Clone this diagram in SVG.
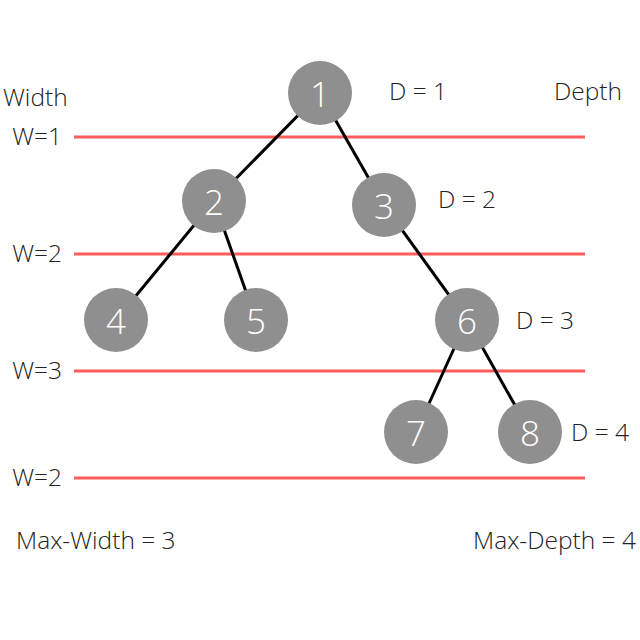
<svg xmlns="http://www.w3.org/2000/svg" width="640" height="640" viewBox="0 0 640 640">
<style>
.lvl{stroke:#ff5c5c;stroke-width:3}
.edge{stroke:#000;stroke-width:3}
.nd{fill:#8f8f8f}
.num{font-family:"Open Sans","Liberation Sans",sans-serif;font-size:35px;font-weight:300;fill:#fff;text-anchor:middle;dominant-baseline:central}
.lbl{font-family:"Open Sans","Liberation Sans",sans-serif;font-size:24.5px;font-weight:300;fill:#222}
</style>
<rect width="640" height="640" fill="#fff"/>
<g id="levels">
<line class="lvl" x1="74" y1="137" x2="585" y2="137"/>
<line class="lvl" x1="74" y1="254" x2="585" y2="254"/>
<line class="lvl" x1="74" y1="371" x2="585" y2="371"/>
<line class="lvl" x1="74" y1="478" x2="585" y2="478"/>
</g>
<g id="connectors">
<line class="edge" x1="320" y1="93" x2="214" y2="201"/>
<line class="edge" x1="320" y1="93" x2="384" y2="205"/>
<line class="edge" x1="214" y1="201" x2="116" y2="320"/>
<line class="edge" x1="214" y1="201" x2="256" y2="320"/>
<line class="edge" x1="384" y1="205" x2="467" y2="320"/>
<line class="edge" x1="467" y1="320" x2="416" y2="432"/>
<line class="edge" x1="467" y1="320" x2="530" y2="432"/>
</g>
<g id="n1"><circle class="nd" cx="320" cy="93" r="32"/><text class="num" x="320" y="93">1</text></g>
<g id="n2"><circle class="nd" cx="214" cy="201" r="32"/><text class="num" x="214" y="201">2</text></g>
<g id="n3"><circle class="nd" cx="384" cy="205" r="32"/><text class="num" x="384" y="205">3</text></g>
<g id="n4"><circle class="nd" cx="116" cy="320" r="32"/><text class="num" x="116" y="320">4</text></g>
<g id="n5"><circle class="nd" cx="256" cy="320" r="32"/><text class="num" x="256" y="320">5</text></g>
<g id="n6"><circle class="nd" cx="467" cy="320" r="32"/><text class="num" x="467" y="320">6</text></g>
<g id="n7"><circle class="nd" cx="416" cy="432" r="32"/><text class="num" x="416" y="432">7</text></g>
<g id="n8"><circle class="nd" cx="530" cy="432" r="32"/><text class="num" x="530" y="432">8</text></g>
<g id="labels">
<text class="lbl" x="3" y="106">Width</text>
<text class="lbl" x="554" y="100">Depth</text>
<text class="lbl" x="62" y="145" text-anchor="end">W=1</text>
<text class="lbl" x="62" y="262" text-anchor="end">W=2</text>
<text class="lbl" x="62" y="379" text-anchor="end">W=3</text>
<text class="lbl" x="62" y="486" text-anchor="end">W=2</text>
<text class="lbl" x="389" y="100">D = 1</text>
<text class="lbl" x="438" y="208">D = 2</text>
<text class="lbl" x="516" y="329">D = 3</text>
<text class="lbl" x="571" y="441">D = 4</text>
<text class="lbl" x="16" y="549">Max-Width = 3</text>
<text class="lbl" x="473" y="549">Max-Depth = 4</text>
</g>
</svg>
